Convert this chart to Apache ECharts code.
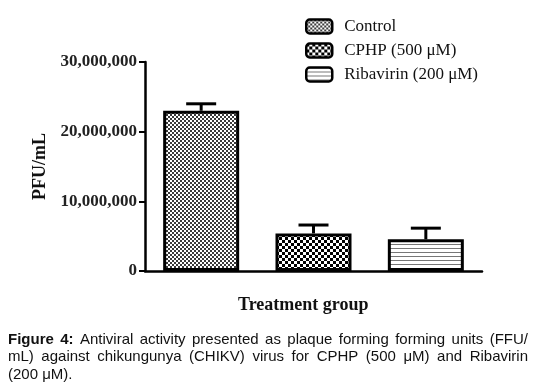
<!DOCTYPE html>
<html>
<head>
<meta charset="utf-8">
<script src="https://cdn.jsdelivr.net/npm/echarts@6/dist/echarts.min.js"></script>
<style>
  html, body { margin: 0; padding: 0; background: #fff; }
  #chart { width: 536px; height: 392px; }
</style>
</head>
<body>
<div id="chart"></div>
<script>
const categories = ['Control', 'CPHP (500 μM)', 'Ribavirin (200 μM)'];
const means = [23000000, 5400000, 4550000];
const errors = [1000000, 1200000, 1600000];
const yTicks = [0, 10000000, 20000000, 30000000];
const captionLines = [
  'Figure 4: Antiviral activity presented as plaque forming forming units (FFU/',
  'mL) against chikungunya (CHIKV) virus for CPHP (500 μM) and Ribavirin',
  '(200 μM).'
];

// small canvas patterns for the bar fills
function makePattern(kind) {
  const c = document.createElement('canvas');
  const ctx = c.getContext('2d');
  if (kind === 'fine') {
    c.width = 4; c.height = 4;
    ctx.fillStyle = '#fff'; ctx.fillRect(0, 0, 4, 4);
    ctx.fillStyle = '#3a3a3a';
    ctx.fillRect(0, 0, 2, 2); ctx.fillRect(2, 2, 2, 2);
  } else if (kind === 'coarse') {
    c.width = 6; c.height = 6;
    ctx.fillStyle = '#fff'; ctx.fillRect(0, 0, 6, 6);
    ctx.fillStyle = '#000';
    ctx.fillRect(0, 0, 3, 3); ctx.fillRect(3, 3, 3, 3);
  } else {
    c.width = 4; c.height = 4;
    ctx.fillStyle = '#fff'; ctx.fillRect(0, 0, 4, 4);
    ctx.fillStyle = '#777';
    ctx.fillRect(0, 0, 4, 1);
  }
  return { image: c, repeat: 'repeat' };
}
const fills = [makePattern('fine'), makePattern('coarse'), makePattern('lines')];

// justified caption: one text element per word
const measureCtx = document.createElement('canvas').getContext('2d');
function captionGraphics() {
  const out = [];
  const left = 8, right = 528, size = 15, top0 = 332, lh = 17.5;
  captionLines.forEach((line, li) => {
    const words = line.split(' ').map((w, wi) => ({ w: w, bold: li === 0 && wi < 2 }));
    words.forEach(o => {
      measureCtx.font = (o.bold ? 'bold ' : '') + size + 'px "Liberation Sans"';
      o.width = measureCtx.measureText(o.w).width;
    });
    measureCtx.font = size + 'px "Liberation Sans"';
    const total = words.reduce((s, o) => s + o.width, 0);
    const last = li === captionLines.length - 1;
    const gap = last ? measureCtx.measureText(' ').width : (right - left - total) / (words.length - 1);
    let x = left;
    words.forEach(o => {
      out.push({
        type: 'text', x: x, y: top0 + li * lh,
        style: {
          text: o.w, fontFamily: 'Liberation Sans', fontSize: size,
          fontWeight: o.bold ? 'bold' : 'normal', fill: '#111'
        }
      });
      x += o.width + gap;
    });
  });
  return out;
}

const chart = echarts.init(document.getElementById('chart'));

const barSeries = categories.map((name, i) => ({
  name: name,
  type: 'bar',
  stack: 'all',
  barWidth: 76,
  data: categories.map((c, j) => (j === i ? means[i] : '-')),
  itemStyle: { color: fills[i], borderColor: '#000', borderWidth: 3 },
  emphasis: { disabled: true }
}));

chart.setOption({
  animation: false,
  grid: { left: 145, right: 54, top: 62, bottom: 121 },
  legend: {
    orient: 'vertical',
    left: 300,
    top: 13,
    itemWidth: 26,
    itemHeight: 14,
    itemGap: 7,
    icon: 'roundRect',
    textStyle: { fontFamily: 'Liberation Serif', fontSize: 17, color: '#111', padding: [0, 0, 0, 7] },
    itemStyle: { borderColor: '#000', borderWidth: 2.5 },
    data: categories
  },
  xAxis: {
    type: 'category',
    data: categories,
    axisLine: { lineStyle: { color: '#000', width: 2.5 } },
    axisTick: { alignWithLabel: true, length: 6, lineStyle: { color: '#000', width: 2 }, interval: (idx) => idx === 1 },
    axisLabel: { show: false }
  },
  yAxis: {
    type: 'value',
    min: 0,
    max: 30000000,
    interval: 10000000,
    name: 'PFU/mL',
    nameLocation: 'middle',
    nameGap: 91,
    nameTextStyle: { fontFamily: 'Liberation Serif', fontWeight: 'bold', fontSize: 18, color: '#111' },
    axisLine: { show: true, lineStyle: { color: '#000', width: 2.5 } },
    axisTick: { show: true, length: 6, lineStyle: { color: '#000', width: 2 } },
    splitLine: { show: false },
    axisLabel: {
      margin: 8,
      fontFamily: 'Liberation Serif',
      fontWeight: 'bold',
      fontSize: 17,
      color: '#222',
      customValues: yTicks,
      formatter: (v) => v.toLocaleString('en-US')
    }
  },
  series: barSeries.concat([{
    type: 'custom',
    name: 'error',
    z: 1,
    data: means.map((m, i) => [i, m, m + errors[i]]),
    renderItem: function (params, api) {
      const x = api.coord([api.value(0), api.value(1)])[0];
      const y0 = api.coord([api.value(0), api.value(1)])[1];
      const y1 = api.coord([api.value(0), api.value(2)])[1];
      const style = { stroke: '#000', lineWidth: 3 };
      return {
        type: 'group',
        children: [
          { type: 'line', shape: { x1: x, y1: y0, x2: x, y2: y1 }, style: style },
          { type: 'line', shape: { x1: x - 15, y1: y1, x2: x + 15, y2: y1 }, style: style }
        ]
      };
    }
  }]),
  graphic: [
    {
      type: 'text',
      left: 238,
      top: 296,
      style: { text: 'Treatment group', fontFamily: 'Liberation Serif', fontWeight: 'bold', fontSize: 18, fill: '#111' }
    }
  ].concat(captionGraphics())
});
</script>
</body>
</html>
